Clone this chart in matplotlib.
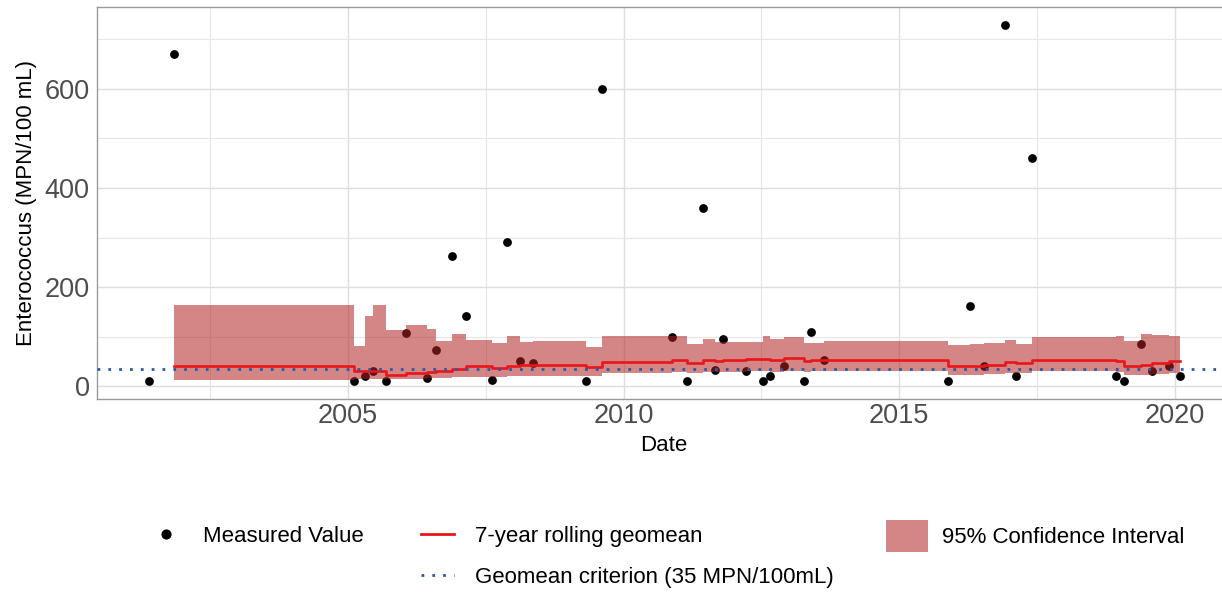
import matplotlib
matplotlib.use("Agg")
import matplotlib.pyplot as plt
from matplotlib.lines import Line2D
from matplotlib.patches import Patch
import numpy as np

plt.rcParams['font.family'] = ['Liberation Sans', 'DejaVu Sans']

# measured samples (decimal year, MPN/100 mL)
sample_dates = [2001.38, 2001.84, 2005.11, 2005.30, 2005.46, 2005.68, 2006.05, 2006.43,
                2006.59, 2006.89, 2007.14, 2007.61, 2007.89, 2008.12, 2008.36, 2009.32,
                2009.60, 2010.87, 2011.15, 2011.44, 2011.65, 2011.81, 2012.21, 2012.52,
                2012.66, 2012.90, 2013.27, 2013.39, 2013.64, 2015.88, 2016.28, 2016.54,
                2016.91, 2017.11, 2017.40, 2018.93, 2019.07, 2019.38, 2019.59, 2019.89,
                2020.09]
sample_values = [10, 670, 10, 20, 30, 10, 107, 17,
                 72, 262, 142, 13, 290, 51, 47, 11,
                 600, 100, 11, 360, 32, 96, 31, 11,
                 20, 41, 11, 110, 53, 11, 161, 41,
                 730, 20, 460, 20, 10, 86, 31, 41,
                 20]

# rolling geomean steps, one value per step starting at each sample from the 2nd on
geomean = [40, 30, 30, 30, 23, 27, 29, 31, 35, 40, 36, 41, 42, 42, 38.5, 49, 52, 46, 52, 51,
           52, 55, 55, 52, 57, 50, 53, 53, 40, 41, 43, 48, 46, 53, 50, 40, 43, 47, 50]
ci_upper = [164, 82, 142, 164, 114, 123, 115, 92, 106, 94, 87, 102, 90, 91, 79, 102, 101, 86,
            95, 90, 89, 90, 102, 95, 99, 87, 87, 91, 84, 85, 87, 94, 86, 99, 102, 91, 106, 104, 102]
ci_lower = [11.7, 14, 14, 14, 14, 15, 16, 17, 18, 19, 18, 20, 21, 21, 20, 26, 28, 26, 29, 28,
            29, 30, 30, 29, 31, 28, 30, 31, 23, 23, 25, 27, 26, 30, 28, 22, 23, 25, 26]
criterion = 35

fig = plt.figure(figsize=(12.22, 5.92), dpi=100)
W, H = 1222, 592
ax = fig.add_axes([96.7 / W, 1 - 399 / H, 1135 / W, (399 - 6.7) / H])

step_x = np.array(sample_dates[1:])
step_gm = np.append(geomean, geomean[-1])
step_lo = np.append(ci_lower, ci_lower[-1])
step_hi = np.append(ci_upper, ci_upper[-1])

ax.scatter(sample_dates, sample_values, s=40, color='black', zorder=3, linewidths=0)
ax.fill_between(step_x, step_lo, step_hi, step='post', color='#B22222', alpha=0.55,
                linewidth=0, zorder=4)
ax.step(step_x, step_gm, where='post', color='#E8161B', lw=1.9, zorder=5)
ax.axhline(criterion, color='#2B5C9E', lw=2, ls=(0, (1, 2.9)), zorder=6)

ax.set_xlim(2000.44, 2021.03)
ax.set_ylim(-26, 766)
ax.set_xticks([2005, 2010, 2015, 2020])
ax.set_xticks([2002.5, 2007.5, 2012.5, 2017.5], minor=True)
ax.set_yticks([0, 200, 400, 600])
ax.set_yticks([100, 300, 500, 700], minor=True)
ax.grid(which='major', color='#DEDEDE', lw=1.0, zorder=0)
ax.grid(which='minor', color='#E6E6E6', lw=0.8, zorder=0)
ax.set_axisbelow(True)
ax.tick_params(which='both', length=0, labelsize=19.5, labelcolor='#4D4D4D', pad=5)
ax.tick_params(axis='x', pad=3)
for sp in ax.spines.values():
    sp.set_color('#9A9A9A')
    sp.set_linewidth(1.0)

ax.set_xlabel('Date', fontsize=16, labelpad=4)
ax.set_ylabel('Enterococcus (MPN/100 mL)', fontsize=16)
ax.yaxis.set_label_coords(-0.053, 0.5)

fs = 16
common = dict(frameon=False, fontsize=fs, borderpad=0, borderaxespad=0, loc='center left')
fig.legend(handles=[Line2D([], [], ls='none', marker='o', color='black', markersize=6.3)],
           labels=['Measured Value'], bbox_to_anchor=(155 / W, 1 - 536 / H),
           handlelength=1.0, handletextpad=1.17, **common)
fig.legend(handles=[Line2D([], [], color='#E8161B', lw=2),
                    Line2D([], [], color='#2B5C9E', lw=2, ls=(0, (1, 2.9)))],
           labels=['7-year rolling geomean', 'Geomean criterion (35 MPN/100mL)'],
           bbox_to_anchor=(421 / W, 1 - 557 / H), handlelength=1.5,
           handletextpad=0.95, labelspacing=0.9, **common)
fig.legend(handles=[Patch(facecolor='#B22222', alpha=0.55, linewidth=0)],
           labels=['95% Confidence Interval'], bbox_to_anchor=(886 / W, 1 - 536 / H),
           handlelength=1.89, handleheight=1.9, handletextpad=0.63, **common)

fig.savefig('out.png', dpi=100)
